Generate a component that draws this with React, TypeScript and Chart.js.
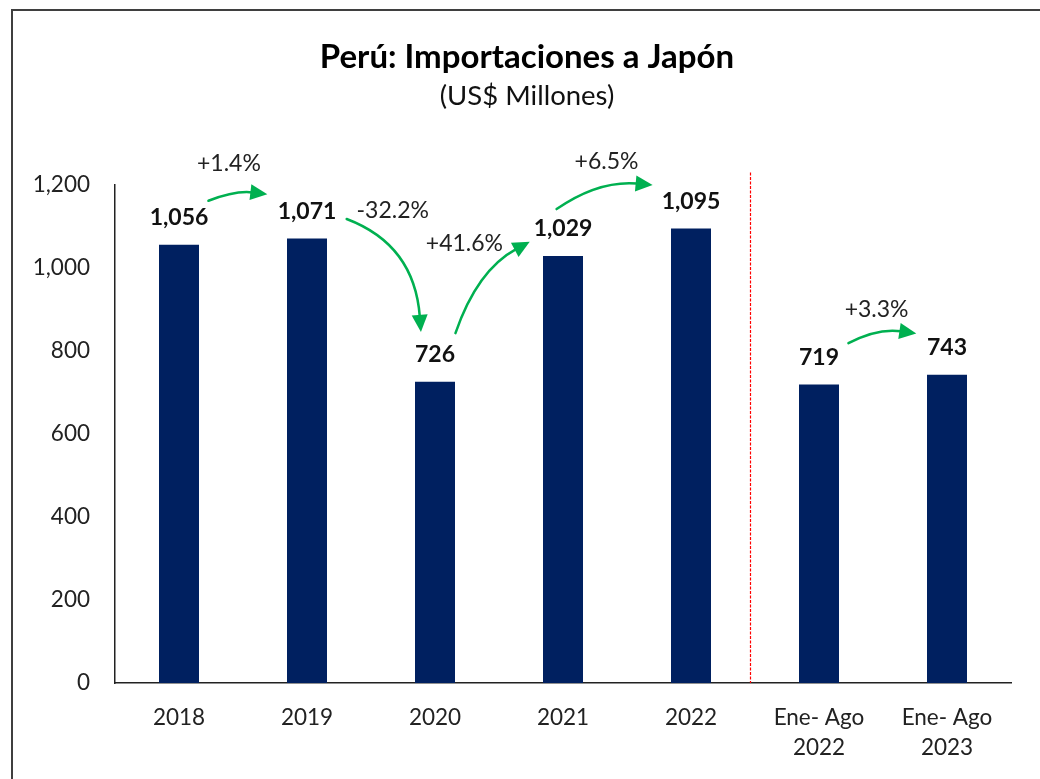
import React, { useEffect, useRef } from 'react';
import { Chart, registerables } from 'chart.js';

Chart.register(...registerables);

// ---- data ----
const categories: (string | string[])[] = ['2018', '2019', '2020', '2021', '2022', ['Ene- Ago', '2022'], ['Ene- Ago', '2023']];
const importValues: number[] = [1056, 1071, 726, 1029, 1095, 719, 743];
const yTickValues: number[] = [0, 200, 400, 600, 800, 1000, 1200];
const changeLabels: string[] = ['+1.4%', '-32.2%', '+41.6%', '+6.5%', '+3.3%'];

// ---- annotation geometry (category index, value units) ----
const arrowGeometry = [
  { from: [0.23, 1162], ctrl: [0.44, 1187], to: [0.69, 1178], text: [0.39, 1251] },
  { from: [1.31, 1118], ctrl: [1.84, 1056], to: [1.89, 846], text: [1.67, 1138] },
  { from: [2.16, 843], ctrl: [2.33, 995], to: [2.74, 1063], text: [2.23, 1060] },
  { from: [2.95, 1142], ctrl: [3.28, 1212], to: [3.70, 1200], text: [3.34, 1256] },
  { from: [5.23, 819], ctrl: [5.46, 856], to: [5.76, 842], text: [5.45, 901] },
];
const dividerTopValue = 1230;
const titleShift = 21.5;

const FONT = 'Lato';

function drawArrow(ctx: CanvasRenderingContext2D, p0: any, c: any, p1: any) {
  const dx = p1.x - c.x, dy = p1.y - c.y;
  const len = Math.hypot(dx, dy) || 1;
  const ux = dx / len, uy = dy / len;
  const headLen = 17, headW = 8;
  const bx = p1.x - ux * headLen, by = p1.y - uy * headLen;
  ctx.beginPath();
  ctx.moveTo(p0.x, p0.y);
  ctx.quadraticCurveTo(c.x, c.y, bx + ux * 2, by + uy * 2);
  ctx.stroke();
  ctx.beginPath();
  ctx.moveTo(p1.x, p1.y);
  ctx.lineTo(bx - uy * headW, by + ux * headW);
  ctx.lineTo(bx + uy * headW, by - ux * headW);
  ctx.closePath();
  ctx.fill();
}

const annotationPlugin = {
  id: 'annotations',
  afterLayout(chart: any) {
    // shift title & subtitle boxes to match the reference centring
    chart.boxes.forEach((b: any) => {
      if (!b.axis && b.options && typeof b.options.text === 'string') {
        b.left += titleShift;
        b.right += titleShift;
      }
    });
  },
  afterDatasetsDraw(chart: any) {
    const ctx: CanvasRenderingContext2D = chart.ctx;
    const xs = chart.scales.x, ys = chart.scales.y;
    const P = (pt: number[]) => ({ x: xs.getPixelForValue(pt[0]), y: ys.getPixelForValue(pt[1]) });
    ctx.save();
    // divider
    const dx = Math.round((xs.getPixelForValue(4) + xs.getPixelForValue(5)) / 2) - 4.5;
    ctx.strokeStyle = '#FF0000';
    ctx.lineWidth = 1.2;
    ctx.setLineDash([3, 1.5]);
    ctx.beginPath();
    ctx.moveTo(dx, ys.getPixelForValue(dividerTopValue));
    ctx.lineTo(dx, ys.getPixelForValue(0));
    ctx.stroke();
    ctx.setLineDash([]);

    // value labels
    const meta = chart.getDatasetMeta(0);
    ctx.fillStyle = '#111';
    ctx.font = `bold 23px ${FONT}`;
    ctx.textAlign = 'center';
    ctx.textBaseline = 'middle';
    meta.data.forEach((bar: any, i: number) => {
      ctx.fillText(importValues[i].toLocaleString('en-US'), bar.x, bar.y - 27);
    });

    // arrows and change labels
    ctx.strokeStyle = '#00B050';
    ctx.fillStyle = '#00B050';
    ctx.lineWidth = 2.5;
    ctx.lineCap = 'round';
    arrowGeometry.forEach((g) => {
      drawArrow(ctx, P(g.from), P(g.ctrl), P(g.to));
    });
    ctx.fillStyle = '#222';
    ctx.font = `23px ${FONT}`;
    arrowGeometry.forEach((g, i) => {
      const t = P(g.text);
      ctx.fillText(changeLabels[i], t.x, t.y);
    });
    ctx.restore();
  },
};

export default function App() {
  const ref = useRef<HTMLCanvasElement | null>(null);
  useEffect(() => {
    document.body.style.margin = '0';
    document.body.style.overflow = 'hidden';
    const chart = new Chart(ref.current as HTMLCanvasElement, {
      type: 'bar',
      data: {
        labels: categories,
        datasets: [
          {
            data: importValues,
            backgroundColor: '#002060',
            borderWidth: 0,
            barPercentage: 0.3125,
            categoryPercentage: 1,
          },
        ],
      },
      options: {
        animation: false,
        responsive: false,
        maintainAspectRatio: false,
        layout: { padding: { left: 0, right: 29, top: 0, bottom: 0 } },
        plugins: {
          legend: { display: false },
          tooltip: { enabled: false },
          title: {
            display: true,
            text: 'Perú: Importaciones a Japón',
            color: '#000',
            font: { family: FONT, size: 33, weight: 'bold' },
            padding: { top: 37.2, bottom: 0 },
          },
          subtitle: {
            display: true,
            text: '(US$ Millones)',
            color: '#111',
            font: { family: FONT, size: 27.5 },
            padding: { top: 2.7, bottom: 72.5 },
          },
        },
        scales: {
          x: {
            grid: { display: false, drawTicks: false },
            border: { display: true, color: '#222', width: 1.5 },
            ticks: {
              color: '#222',
              font: { family: FONT, size: 22.5, lineHeight: 1.34 },
              padding: 20,
              maxRotation: 0,
              autoSkip: false,
            },
            afterFit: (s: any) => { s.height = 96; },
          },
          y: {
            min: yTickValues[0],
            max: yTickValues[yTickValues.length - 1],
            grid: { display: false, drawTicks: false },
            border: { display: true, color: '#222', width: 1.5 },
            ticks: {
              stepSize: yTickValues[1] - yTickValues[0],
              color: '#222',
              font: { family: FONT, size: 22.5 },
              padding: 25,
              callback: (v: any) => Number(v).toLocaleString('en-US'),
            },
            afterFit: (s: any) => { s.width = 115; },
          },
        },
      },
      plugins: [annotationPlugin],
    } as any);
    return () => chart.destroy();
  }, []);

  return (
    <div style={{ position: 'fixed', left: 0, top: 0, width: 1040, height: 779, overflow: 'hidden', background: '#fff' }}>
      <div style={{ position: 'absolute', left: 11, top: 9, width: 1100, height: 900, border: '2px solid #3f3f3f' }} />
      <canvas ref={ref} width={1040} height={779} style={{ position: 'absolute', left: 0, top: 0, width: 1040, height: 779 }} />
    </div>
  );
}
